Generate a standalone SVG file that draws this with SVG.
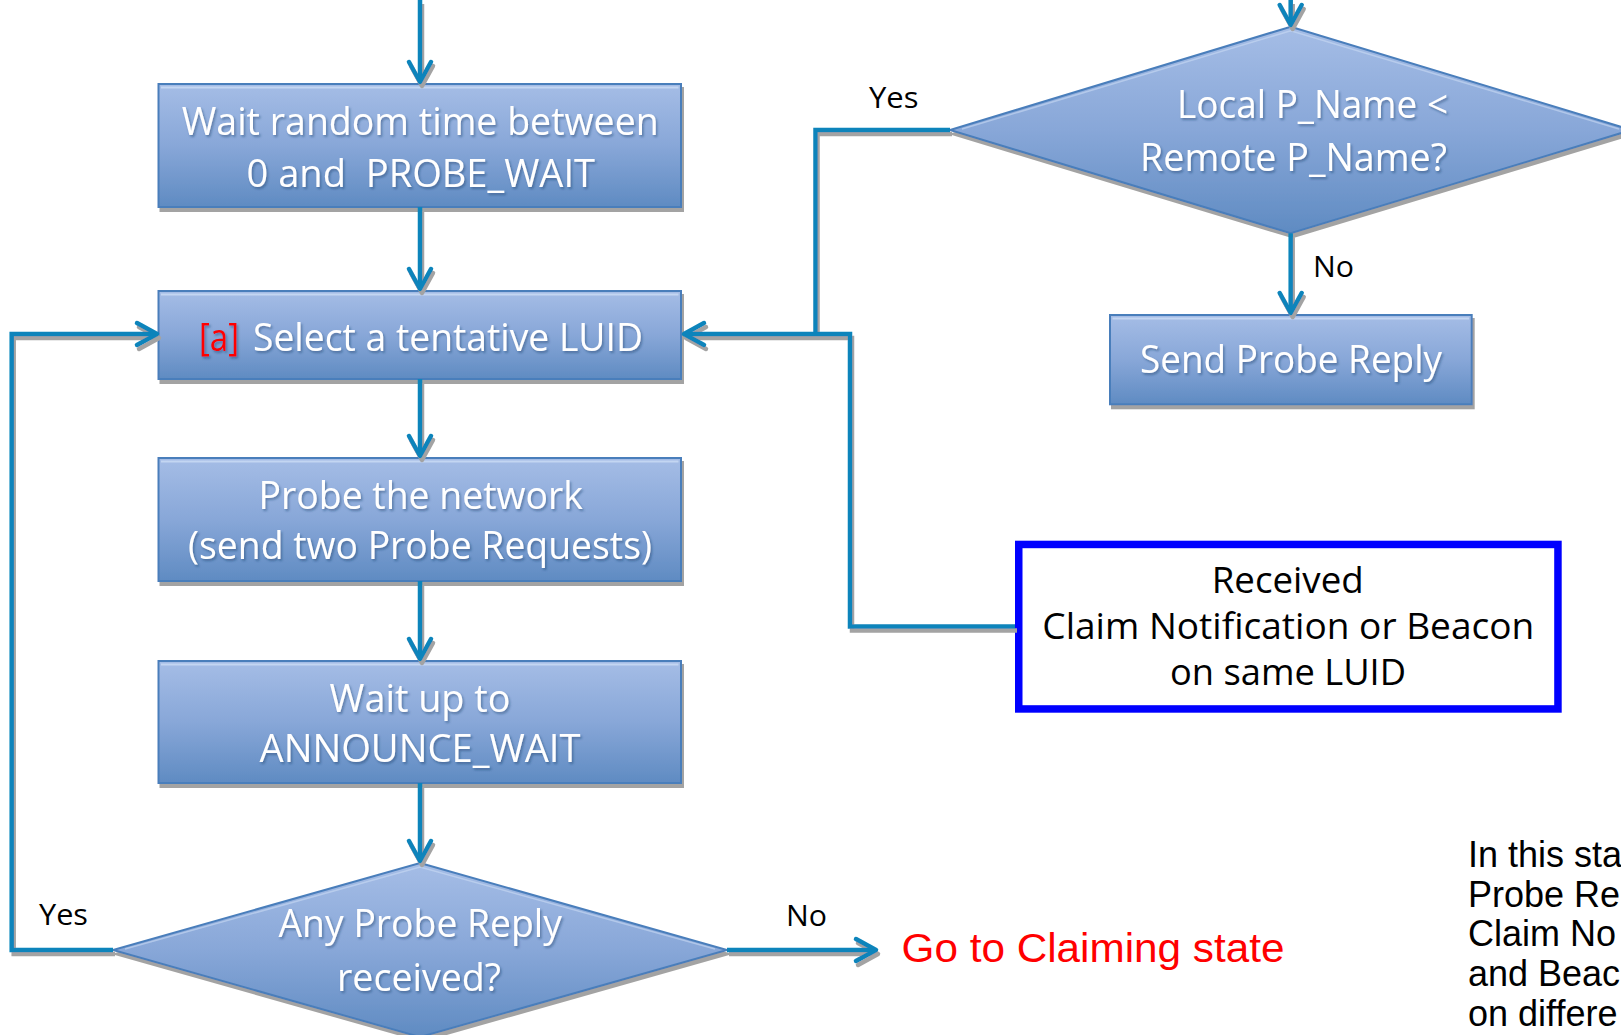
<svg xmlns="http://www.w3.org/2000/svg" width="1621" height="1035" viewBox="0 0 1621 1035">
<style>
.box{fill:url(#gb);stroke:#4a7ebb;stroke-width:2;filter:url(#sh)}
.hl{fill:none;stroke:#c9daf4;stroke-width:2;opacity:.85}
.nt{font-family:"Open Sans","Noto Sans",sans-serif;font-size:38px;fill:#fff;filter:url(#ts)}
.lb{font-family:"Open Sans","Noto Sans",sans-serif;font-size:30px;fill:#000}
.bt{font-family:"Open Sans","Noto Sans",sans-serif;font-size:36px;fill:#000}
.ar{font-family:"Liberation Sans",Arial,sans-serif;font-size:36px;fill:#000}
.red{fill:#ff0000}
.cn{fill:none;stroke:#0b84bb;stroke-width:4.5;marker-end:url(#ah)}
.cp{fill:none;stroke:#0b84bb;stroke-width:4.5}
</style>
<defs>
<linearGradient id="gb" x1="0" y1="0" x2="0" y2="1">
<stop offset="0" stop-color="#a5bde6"/>
<stop offset="0.5" stop-color="#88a7d8"/>
<stop offset="1" stop-color="#5f8bc2"/>
</linearGradient>
<filter id="sh" x="-5%" y="-5%" width="115%" height="125%">
<feOffset in="SourceAlpha" dx="1.5" dy="4" result="o"/>
<feFlood flood-color="#a3a3a3"/>
<feComposite in2="o" operator="in" result="s"/>
<feMerge><feMergeNode in="s"/><feMergeNode in="SourceGraphic"/></feMerge>
</filter>
<filter id="csh" filterUnits="userSpaceOnUse" x="0" y="0" width="1621" height="1035">
<feOffset in="SourceAlpha" dx="1.5" dy="4" result="o"/>
<feFlood flood-color="#a3a3a3"/>
<feComposite in2="o" operator="in" result="s"/>
<feMerge><feMergeNode in="s"/><feMergeNode in="SourceGraphic"/></feMerge>
</filter>
<filter id="ts" x="-5%" y="-20%" width="110%" height="150%">
<feDropShadow dx="1.5" dy="2" stdDeviation="1" flood-color="#1f3d66" flood-opacity="0.45"/>
</filter>
<marker id="ah" markerUnits="userSpaceOnUse" viewBox="-24 -15 34 30" refX="0" refY="0" markerWidth="34" markerHeight="30" orient="auto">
<path d="M-17,-11 L3,0 L-17,11" fill="none" stroke="#0b84bb" stroke-width="4.5" stroke-linejoin="round" stroke-linecap="round"/>
</marker>
</defs>
<rect width="1621" height="1035" fill="#fff"/>

<g id="n-wait-random">
<rect class="box" x="158.5" y="84" width="522.5" height="123"/>
<line class="hl" x1="161" y1="87.5" x2="678.5" y2="87.5"/>
<text class="nt" x="181.7" y="135" textLength="477" lengthAdjust="spacingAndGlyphs">Wait random time between</text>
<text class="nt" x="246.5" y="187" textLength="348.5" lengthAdjust="spacingAndGlyphs" xml:space="preserve">0 and  PROBE_WAIT</text>
</g>

<g id="n-select-luid">
<rect class="box" x="158.5" y="291" width="522.5" height="88"/>
<line class="hl" x1="161" y1="294.5" x2="678.5" y2="294.5"/>
<text class="nt" y="350.7"><tspan class="red" x="199" textLength="40" lengthAdjust="spacingAndGlyphs">[a]</tspan><tspan x="253" textLength="390" lengthAdjust="spacingAndGlyphs">Select a tentative LUID</tspan></text>
</g>

<g id="n-probe-network">
<rect class="box" x="158.5" y="458" width="522.5" height="123"/>
<line class="hl" x1="161" y1="461.5" x2="678.5" y2="461.5"/>
<text class="nt" x="258.5" y="509" textLength="324.5" lengthAdjust="spacingAndGlyphs">Probe the network</text>
<text class="nt" x="188" y="559" textLength="464" lengthAdjust="spacingAndGlyphs">(send two Probe Requests)</text>
</g>

<g id="n-wait-announce">
<rect class="box" x="158.5" y="661" width="522.5" height="122"/>
<line class="hl" x1="161" y1="664.5" x2="678.5" y2="664.5"/>
<text class="nt" x="329.5" y="712" textLength="181" lengthAdjust="spacingAndGlyphs">Wait up to</text>
<text class="nt" x="259.5" y="762" textLength="321" lengthAdjust="spacingAndGlyphs">ANNOUNCE_WAIT</text>
</g>

<g id="n-any-probe-reply">
<polygon class="box" points="420,863 727,950 420,1037 113,950"/>
<polyline class="hl" points="125,949 420,867 715,949" style="stroke-width:1.5;opacity:.6"/>
<text class="nt" x="278.5" y="936.7" textLength="283.5" lengthAdjust="spacingAndGlyphs">Any Probe Reply</text>
<text class="nt" x="337" y="990.7" textLength="164" lengthAdjust="spacingAndGlyphs">received?</text>
</g>

<g id="n-local-pname">
<polygon class="box" points="1290.7,26.7 1631.4,130 1290.7,233.3 950,130"/>
<polyline class="hl" points="962,129 1290.7,30.7 1619,129" style="stroke-width:1.5;opacity:.6"/>
<text class="nt" x="1177" y="118.3" textLength="271" lengthAdjust="spacingAndGlyphs">Local P_Name &lt;</text>
<text class="nt" x="1140" y="170.7" textLength="307" lengthAdjust="spacingAndGlyphs">Remote P_Name?</text>
</g>

<g id="n-send-probe-reply">
<rect class="box" x="1110" y="315" width="361.7" height="89.3"/>
<line class="hl" x1="1112.5" y1="318.5" x2="1469" y2="318.5"/>
<text class="nt" x="1140" y="372.7" textLength="302" lengthAdjust="spacingAndGlyphs">Send Probe Reply</text>
</g>

<g id="n-received">
<rect x="1018.75" y="544.45" width="539.2" height="164.5" fill="#fff" stroke="#0000ff" stroke-width="7.5"/>
<text class="bt" x="1211.7" y="593.3" textLength="152" lengthAdjust="spacingAndGlyphs">Received</text>
<text class="bt" x="1042.3" y="639.3" textLength="492" lengthAdjust="spacingAndGlyphs">Claim Notification or Beacon</text>
<text class="bt" x="1170" y="685" textLength="236" lengthAdjust="spacingAndGlyphs">on same LUID</text>
</g>

<g id="n-goto-claiming">
<text class="ar red" x="901.5" y="962" style="font-size:41px" textLength="383" lengthAdjust="spacingAndGlyphs">Go to Claiming state</text>
</g>

<g id="n-note">
<text class="ar" x="1468" y="867">In this sta</text>
<text class="ar" x="1468" y="906.5">Probe Re</text>
<text class="ar" x="1468" y="946">Claim No</text>
<text class="ar" x="1468" y="986">and Beac</text>
<text class="ar" x="1468" y="1026">on differe</text>
</g>

<g id="connectors" filter="url(#csh)">
<path class="cn" d="M420,0 L420,79"/>
<path class="cn" d="M420,207 L420,286"/>
<path class="cn" d="M420,379 L420,453"/>
<path class="cn" d="M420,581 L420,656"/>
<path class="cn" d="M420,783 L420,858"/>
<path class="cn" d="M113,950 L11.7,950 L11.7,334 L154,334"/>
<path class="cn" d="M727,950 L873,950"/>
<path class="cn" d="M1290.7,0 L1290.7,22"/>
<path class="cn" d="M1290.7,233.3 L1290.7,310"/>
<path class="cp" d="M950,130 L815.5,130 L815.5,334"/>
<path class="cn" d="M1015,626.5 L850,626.5 L850,334 L687,334"/>
</g>

<g id="labels">
<text class="lb" x="869" y="108.3" textLength="49.5" lengthAdjust="spacingAndGlyphs">Yes</text>
<text class="lb" x="1313" y="276.7" textLength="41" lengthAdjust="spacingAndGlyphs">No</text>
<text class="lb" x="39" y="925" textLength="49" lengthAdjust="spacingAndGlyphs">Yes</text>
<text class="lb" x="786" y="925.7" textLength="41" lengthAdjust="spacingAndGlyphs">No</text>
</g>
</svg>
